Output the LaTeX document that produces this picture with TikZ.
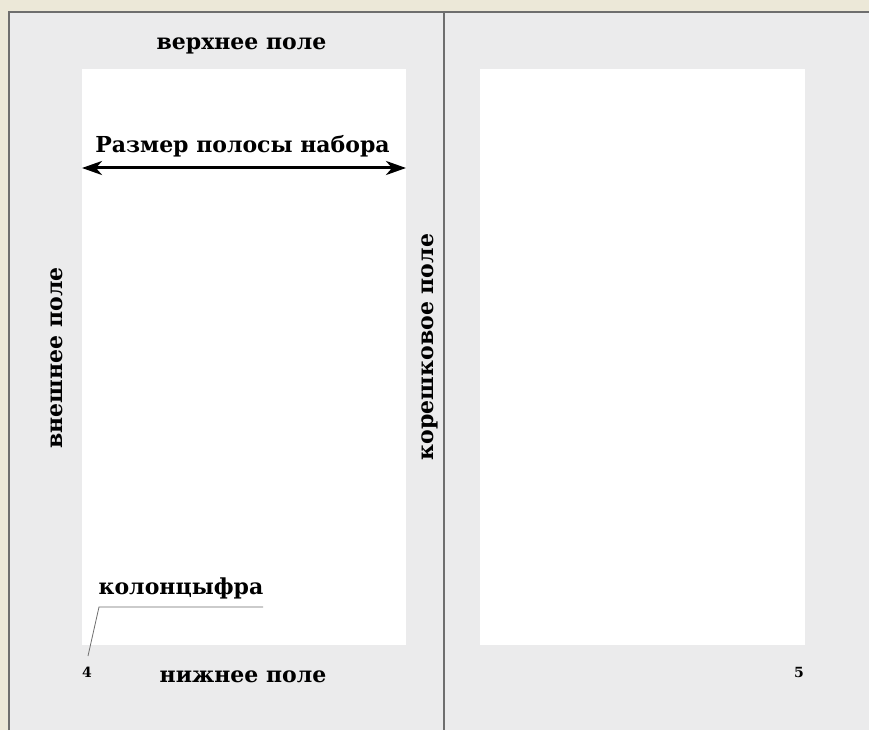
\documentclass[tikz,border=0pt]{standalone}
\usepackage{fontspec}
\setmainfont{DejaVu Serif}
\usetikzlibrary{arrows.meta}
\definecolor{fieldgray}{HTML}{EBEBEC}
\definecolor{paperbeige}{HTML}{ECE8D8}
\definecolor{framegray}{HTML}{6E6E6E}
\tikzset{
  margintext/.style={font=\bfseries\fontsize{22}{26}\selectfont, inner sep=0pt, anchor=base},
  pagenum/.style={font=\bfseries\fontsize{14}{16}\selectfont, inner sep=0pt},
  leader/.style={draw=framegray, line width=0.8pt},
}
\begin{document}
\begin{tikzpicture}[x=1pt,y=-1pt]
        \useasboundingbox (0,0) rectangle (869,730);
        % sheet and frame
        \fill[paperbeige] (0,0) rectangle (869,730);
        \fill[fieldgray] (9,12) rectangle (869,730);
        \draw[framegray, line width=1.5pt] (9,730) -- (9,12) -- (869,12);
        \draw[framegray, line width=1.2pt] (444,12) -- (444,730);
        % type areas
        \fill[white] (82,69) rectangle (406,645);
        \fill[white] (480,69) rectangle (805,645);
        % left page
        \node[margintext] (top) at (241.5,50) {верхнее поле};
        \node[margintext] (area) at (242.5,153) {Размер полосы набора};
        \coordinate (area left) at (82,168);
        \coordinate (area right) at (406,168);
        \draw[line width=3pt, {Stealth[length=20pt,width=14pt,inset=6pt]}-{Stealth[length=20pt,width=14pt,inset=6pt]}] (area left) -- (area right);
        \node[margintext, rotate=90] (outer) at (62,358) {внешнее поле};
        \node[margintext, rotate=90] (spine) at (433,347) {корешковое поле};
        \node[margintext] (folio) at (181,594) {колонцыфра};
        \node[margintext] (bottom) at (243,682) {нижнее поле};
        \node[pagenum] (num4) at (87,672) {4};
        \coordinate (folio right) at (263,607);
        \coordinate (folio left) at (99,607);
        \coordinate (folio end) at (88,656);
        \draw[leader] (folio right) -- (folio left) -- (folio end);
        % right page
        \node[pagenum] (num5) at (799,672) {5};
\end{tikzpicture}
\end{document}
